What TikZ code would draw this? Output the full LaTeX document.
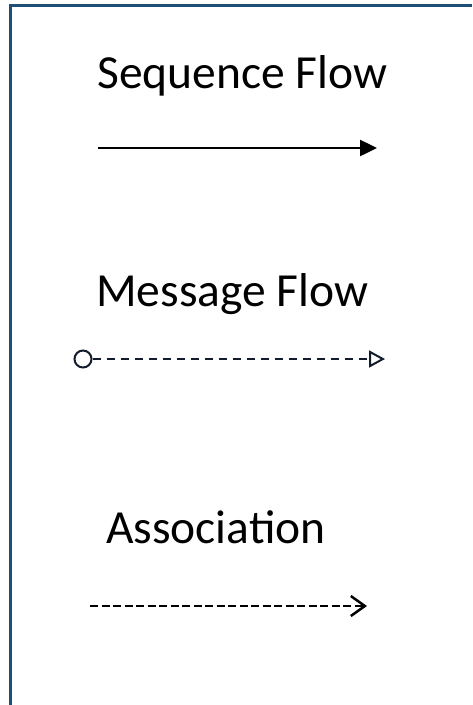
\documentclass[tikz,border=0pt]{standalone}
\usepackage{fontspec}
\setmainfont{Carlito}
\usetikzlibrary{arrows.meta}
\definecolor{frameblue}{RGB}{31,78,121}
\definecolor{navy}{RGB}{18,28,45}
\tikzset{
  lbl/.style={inner sep=0pt, anchor=base west, font=\fontsize{47.5}{50}\selectfont},
  seqflow/.style={line width=2.5pt, -{Triangle[length=17pt,width=16pt]}},
  msgflow/.style={line width=2pt, draw=navy, dash pattern=on 8pt off 6pt, -{Triangle[open,length=16pt,width=17pt,line width=2pt]}},
  assoc/.style={line width=2.5pt, dash pattern=on 8pt off 3.5pt, -{Straight Barb[length=14pt,width=20pt,line width=2.5pt]}},
  framestyle/.style={line width=3pt, draw=frameblue}
}
\begin{document}
\begin{tikzpicture}[x=1pt,y=-1pt]
\useasboundingbox (0,0) rectangle (472,705);
% frame
\coordinate (fb) at (10.5,705);
\coordinate (fc) at (10.5,5.5);
\coordinate (fr) at (472,5.5);
\draw[framestyle] (fb) -- (fc) -- (fr);
% Sequence flow
\node[lbl] (seqlbl) at (97,88) {Sequence Flow};
\coordinate (s1) at (98,148);
\coordinate (s2) at (377,148);
\draw[seqflow] (s1) -- (s2);
% Message flow
\node[lbl] (msglbl) at (96,306) {Message Flow};
\node[circle, draw=navy, line width=2pt, minimum size=17pt, inner sep=0pt] (mcirc) at (83,359) {};
\coordinate (m2) at (385,359);
\draw[msgflow] (mcirc.east) -- (m2);
% Association
\node[lbl] (asslbl) at (106,543) {Association};
\coordinate (a1) at (90,606);
\coordinate (a2) at (367,606);
\draw[assoc] (a1) -- (a2);
\end{tikzpicture}
\end{document}
